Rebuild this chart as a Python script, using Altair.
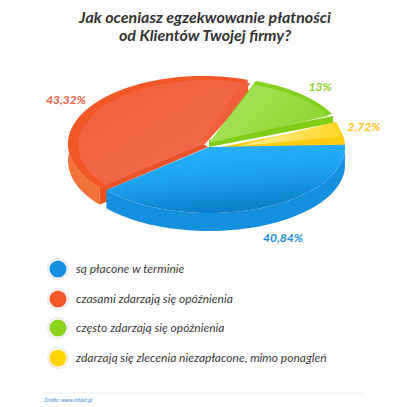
import math
import altair as alt
import pandas as pd

TITLE = ["Jak oceniasz egzekwowanie płatności", "od Klientów Twojej firmy?"]
CATEGORIES = ["są płacone w terminie", "czasami zdarzają się opóźnienia",
              "często zdarzają się opóźnienia",
              "zdarzają się zlecenia niezapłacone, mimo ponagleń"]
SHARES = ["40,84%", "43,32%", "13%", "2,72%"]
# drawn start / end of each slice, degrees clockwise from 3 o'clock
DRAWN_START = [-2, 140, 290, 340]
DRAWN_END = [139, 289, 334, 358]
COLORS = ["#1590DE", "#F4582B", "#8CD41E", "#FFD505"]
LABEL_COLORS = ["#1B8FDC", "#F2603A", "#8CD41E", "#FFC20E"]
SOURCE = "Źródło: www.infakt.pl"

W, H = 394, 395
FONT = "Lato"
x_s = alt.Scale(domain=[8, 8 + W], range=[0, W])
y_s = alt.Scale(domain=[8 + H, 8])
X = alt.X("x:Q", scale=x_s, axis=None)
Y = alt.Y("y:Q", scale=y_s, axis=None)


def arc(cx, cy, rx, ry, t0, t1):
    n = max(2, int(abs(t1 - t0) / 2))
    return [(cx + rx * math.cos(math.radians(t0 + (t1 - t0) * i / n)),
             cy + ry * math.sin(math.radians(t0 + (t1 - t0) * i / n))) for i in range(n + 1)]


def sector(cx, cy, rx, ry, t0, t1, apex=None):
    return [apex or (cx, cy)] + arc(cx, cy, rx, ry, t0, t1)


def wall(cx, cy, rx, ry, t0, t1, d):
    return arc(cx, cy, rx, ry, t0, t1) + arc(cx, cy + d, rx, ry, t1, t0)


def shape(pts, fill):
    df = pd.DataFrame({"x": [p[0] for p in pts], "y": [p[1] for p in pts], "i": range(len(pts))})
    return alt.Chart(df).mark_line(fill=fill, stroke=None, strokeWidth=0, interpolate="linear-closed",
                                   clip=False).encode(x=X, y=Y, order="i:Q")


def grad(stops, x1=0, y1=0, x2=0, y2=1):
    return alt.Gradient(gradient="linear", x1=x1, y1=y1, x2=x2, y2=y2,
                        stops=[alt.GradientStop(offset=o, color=c) for o, c in stops])


BX, BY = 209, 147
RX, RY = 136, 66
DEPTH = 18
RCX, RCY = 203, 144
s, e = DRAWN_START, DRAWN_END

p_red = arc(RCX, RCY, 135, 68, s[1], s[1])[0]
p_blue = arc(BX, BY, RX, RY, e[0], e[0])[0]
tip = arc(RCX, RCY, 137, 68, e[1], e[1])[0]
layers = [
    # red walls
    shape(wall(RCX, RCY, 135, 68, s[1], 192, 17), "#F27238"),
    shape([p_red, (p_red[0] + 9, p_red[1] - 4), (p_red[0] + 9, p_red[1] + 13), (p_red[0], p_red[1] + 17)], "#EC4F1E"),
    # red top
    shape(sector(RCX, RCY, 135, 68, s[1], e[1]), "#F05826"),
    shape([(RCX, RCY)] + arc(RCX + 5, RCY + 1, 130, 65, s[1], e[1]),
          grad([(0, "#EF6038"), (1, "#F36D4E")], 0, 0, 1, 1)),
    shape([(BX - 1, BY), p_blue, p_red, (RCX, RCY)], "#E8532A"),
    shape([tip, (tip[0] + 1, tip[1] + 16), (RCX + 1, RCY + 1), (RCX - 1, RCY - 3), (tip[0] - 4, tip[1] + 1)], "#F0603A"),
    # green
    shape([(BX, BY), (BX + 124, BY - 24), (BX + 124, BY - 31), (BX, BY - 7)], "#80CE18"),
    shape(sector(BX, BY - 4, 137, RY, s[2], e[2]), "#84D01C"),
    shape([(BX, BY - 4)] + arc(BX, BY - 4, 133, 62, s[2], e[2]),
          grad([(0, "#A8E35E"), (1, "#8CD62C")], 0, 0.3, 1, 0.7)),
    # yellow
    shape(sector(BX, BY, RX, RY, s[3], e[3] + 2, apex=(BX + 12, BY)), "#FFCB10"),
    shape([(BX + 30, BY - 1)] + arc(BX, BY - 6, RX - 3, RY, s[3] + 3, s[3] + 16),
          grad([(0, "#FFF09A"), (1, "#FFD525")], 0, 0, 1, 0)),
    # blue
    shape(wall(BX, BY, RX, RY, s[0], e[0], DEPTH), "#1590DE"),
    shape(sector(BX, BY, RX, RY, s[0], e[0]),
          grad([(0, "#2AB4FF"), (0.5, "#1EA2EE"), (1, "#0A7CC8")], 0.2, 0, 0.5, 1)),
]

labels = pd.DataFrame({
    "t": SHARES, "c": LABEL_COLORS,
    "x": [283, 66, 320, 364], "y": [238, 100, 87, 127],
})
layers.append(alt.Chart(labels).mark_text(font=FONT, fontStyle="italic", fontWeight="bold", fontSize=12).encode(
    x=X, y=Y, text="t:N", color=alt.Color("c:N", scale=None)))

title_df = pd.DataFrame({"t": TITLE, "x": [205, 205], "y": [18, 36]})
layers.append(alt.Chart(title_df).mark_text(font=FONT, fontStyle="italic", fontWeight="bold", fontSize=16,
                                            color="#333333").encode(x=X, y=Y, text="t:N"))

leg = pd.DataFrame({"t": CATEGORIES, "c": COLORS, "x": [58] * 4, "tx": [76] * 4, "y": [269, 299, 328, 358]})
layers.append(alt.Chart(leg).mark_point(filled=False, shape="circle", size=415, stroke="#E2E2E2", strokeWidth=1.5).encode(x=X, y=Y))
layers.append(alt.Chart(leg).mark_point(filled=True, shape="circle", size=292, opacity=1).encode(
    x=X, y=Y, color=alt.Color("c:N", scale=None)))
layers.append(alt.Chart(leg).mark_text(font=FONT, fontStyle="italic", fontSize=12, align="left", color="#3A3A3A").encode(
    x=alt.X("tx:Q", scale=x_s, axis=None), y=Y, text="t:N"))

rule_df = pd.DataFrame({"x": [44], "x2": [364], "y": [393]})
layers.append(alt.Chart(rule_df).mark_rule(color="#EEEEEE").encode(x=X, x2="x2:Q", y=Y))
src_df = pd.DataFrame({"t": [SOURCE], "x": [44], "y": [400]})
layers.append(alt.Chart(src_df).mark_text(font=FONT, fontStyle="italic", fontSize=5.4, align="left", color="#3A8FD6").encode(x=X, y=Y, text="t:N"))

chart = alt.layer(*layers).properties(width=W, height=H, padding=0, background="white").configure_view(stroke=None)
chart.save("out.html", embed_options={"renderer": "svg", "actions": False})
